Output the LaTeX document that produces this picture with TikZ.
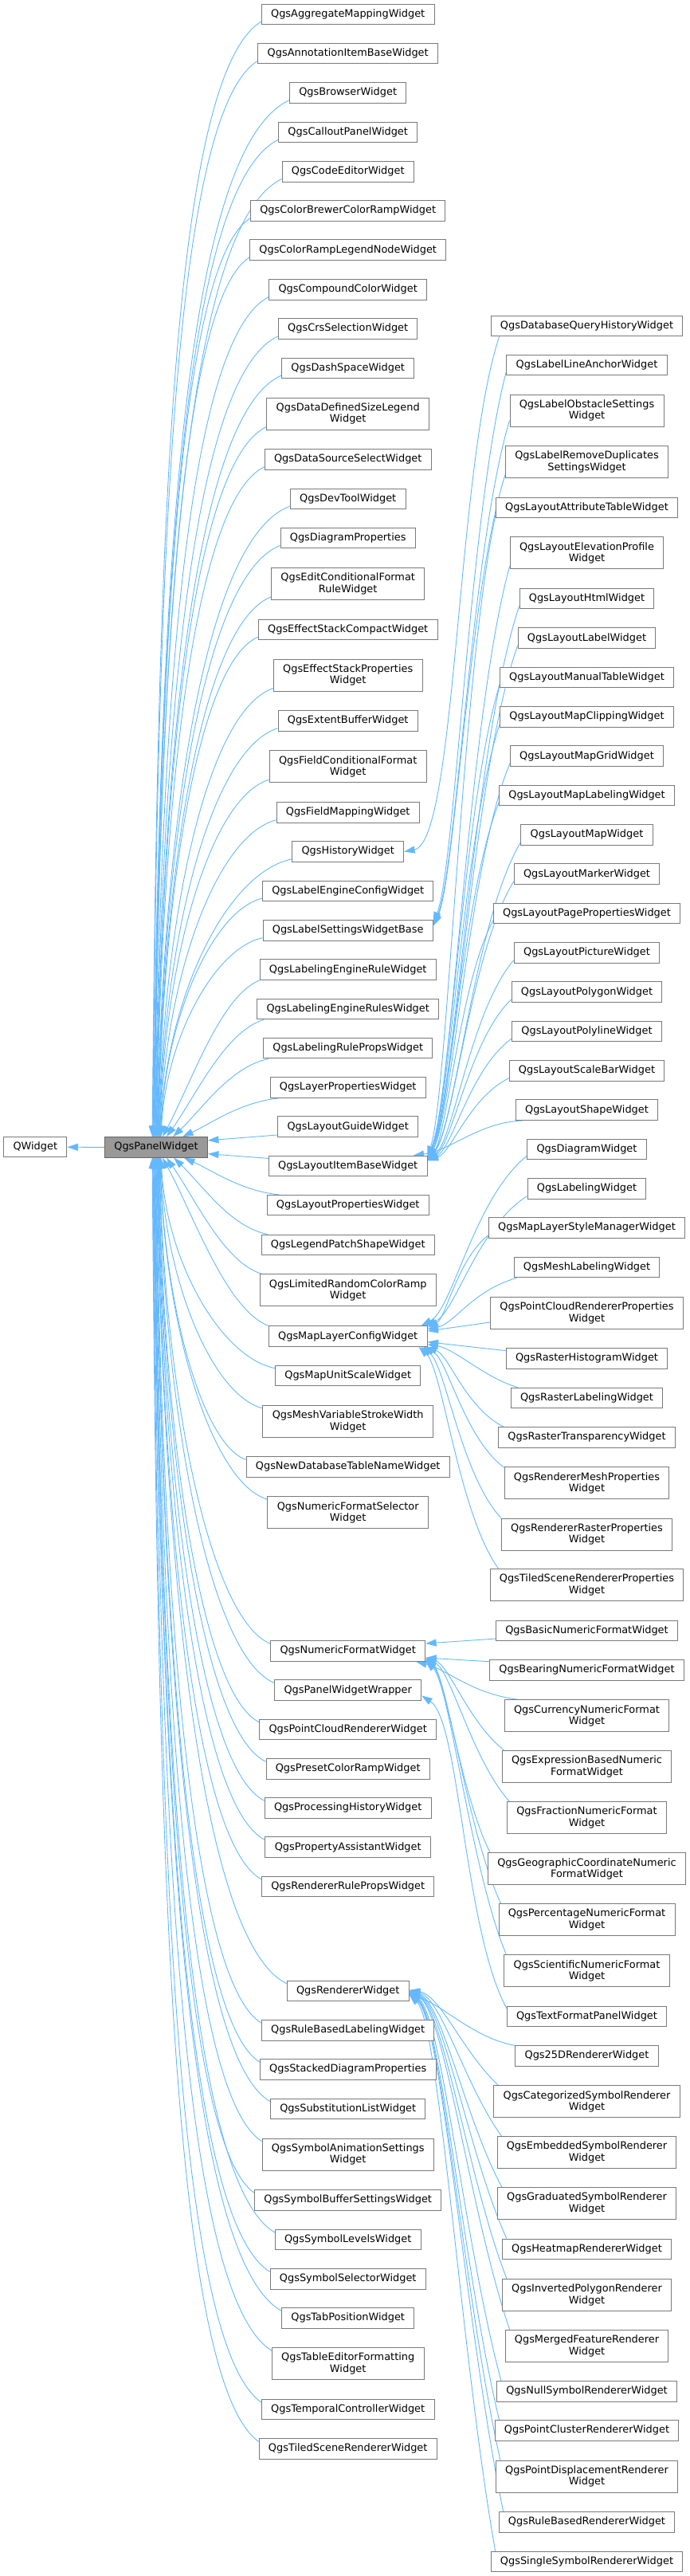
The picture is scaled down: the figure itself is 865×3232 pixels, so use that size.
\documentclass[tikz,border=0pt]{standalone}
\usepackage{fontspec}
\setmainfont{DejaVu Sans}
\usetikzlibrary{arrows.meta,calc}
\definecolor{edgec}{HTML}{63B8FF}
\definecolor{boxc}{HTML}{7A7A7A}
\definecolor{rootb}{HTML}{666666}
\definecolor{rootf}{HTML}{999999}
\pgfdeclarelayer{bg}
\pgfsetlayers{bg,main}
\newcommand\drawedge[6]{\draw[edge] let \p1=(#1), \p2=(#2) in (\p1) .. controls ({\x1+#3*(\x2-\x1)},{\y1+#4*(\y2-\y1)}) and ({\x2+#5*(\x1-\x2)},{\y2+#6*(\y1-\y2)}) .. (\p2);}
\newcommand\drawline[2]{\draw[edge] (#1) -- (#2);}
\begin{document}
\begin{tikzpicture}[x=1pt,y=-1pt,
  edge/.style={draw=edgec, line width=0.9pt, arrows={Triangle[length=13.5pt,width=9pt]-}},
  base/.style={draw=boxc, fill=white, line width=1pt, inner xsep=11.8pt, inner ysep=0pt, font=\fontsize{12.9}{14.5}\selectfont},
  box/.style={base, minimum height=25.5pt, text height=9.6pt, text depth=2.9pt},
  boxii/.style={base, align=center, minimum height=40pt},
  root/.style={box, draw=rootb, fill=rootf}]
\useasboundingbox (0,0) rectangle (865,3232);

\node[box] (qw) at (44.3,1439.2) {QWidget};
\node[root] (pw) at (196,1439.4) {QgsPanelWidget};

% column 2
\node[box] (a1) at (436.7,17.9) {QgsAggregateMappingWidget};
\node[box] (a2) at (436.7,67.2) {QgsAnnotationItemBaseWidget};
\node[box] (a3) at (436.7,116.4) {QgsBrowserWidget};
\node[box] (a4) at (436.7,166) {QgsCalloutPanelWidget};
\node[box] (a5) at (436.7,215.3) {QgsCodeEditorWidget};
\node[box] (a6) at (436.7,264.5) {QgsColorBrewerColorRampWidget};
\node[box] (a7) at (436.7,313.7) {QgsColorRampLegendNodeWidget};
\node[box] (a8) at (436.7,363.3) {QgsCompoundColorWidget};
\node[box] (a9) at (436.7,412.6) {QgsCrsSelectionWidget};
\node[box] (a10) at (436.7,461.8) {QgsDashSpaceWidget};
\node[boxii] (a11) at (436.7,519) {QgsDataDefinedSizeLegend\\Widget};
\node[box] (a12) at (436.7,576.6) {QgsDataSourceSelectWidget};
\node[box] (a13) at (436.7,625.8) {QgsDevToolWidget};
\node[box] (a14) at (436.7,675.2) {QgsDiagramProperties};
\node[boxii] (a15) at (436.7,732.4) {QgsEditConditionalFormat\\RuleWidget};
\node[box] (a16) at (436.7,789.9) {QgsEffectStackCompactWidget};
\node[boxii] (a17) at (436.7,847) {QgsEffectStackProperties\\Widget};
\node[box] (a18) at (436.7,904.5) {QgsExtentBufferWidget};
\node[boxii] (a19) at (436.7,961.7) {QgsFieldConditionalFormat\\Widget};
\node[box] (a20) at (436.7,1019.5) {QgsFieldMappingWidget};
\node[box] (a21) at (436.7,1068.6) {QgsHistoryWidget};
\node[box] (a22) at (436.7,1117.9) {QgsLabelEngineConfigWidget};
\node[box] (a23) at (436.7,1167.4) {QgsLabelSettingsWidgetBase};
\node[box] (a24) at (436.7,1216.7) {QgsLabelingEngineRuleWidget};
\node[box] (a25) at (436.7,1266) {QgsLabelingEngineRulesWidget};
\node[box] (a26) at (436.7,1315.2) {QgsLabelingRulePropsWidget};
\node[box] (a27) at (436.7,1364.5) {QgsLayerPropertiesWidget};
\node[box] (a28) at (436.7,1413.7) {QgsLayoutGuideWidget};
\node[box] (a29) at (436.7,1463.1) {QgsLayoutItemBaseWidget};
\node[box] (a30) at (436.7,1512.2) {QgsLayoutPropertiesWidget};
\node[box] (a31) at (436.7,1561.8) {QgsLegendPatchShapeWidget};
\node[boxii] (a32) at (436.7,1618.8) {QgsLimitedRandomColorRamp\\Widget};
\node[box] (a33) at (436.7,1676.7) {QgsMapLayerConfigWidget};
\node[box] (a34) at (436.7,1725.9) {QgsMapUnitScaleWidget};
\node[boxii] (a35) at (436.7,1783.3) {QgsMeshVariableStrokeWidth\\Widget};
\node[box] (a36) at (436.7,1840.6) {QgsNewDatabaseTableNameWidget};
\node[boxii] (a37) at (436.7,1897.7) {QgsNumericFormatSelector\\Widget};
\node[box] (a38) at (436.7,2071.5) {QgsNumericFormatWidget};
\node[box] (a39) at (436.7,2120.7) {QgsPanelWidgetWrapper};
\node[box] (a40) at (436.7,2170) {QgsPointCloudRendererWidget};
\node[box] (a41) at (436.7,2219.4) {QgsPresetColorRampWidget};
\node[box] (a42) at (436.7,2268.5) {QgsProcessingHistoryWidget};
\node[box] (a43) at (436.7,2317.7) {QgsPropertyAssistantWidget};
\node[box] (a44) at (436.7,2367) {QgsRendererRulePropsWidget};
\node[box] (a45) at (436.7,2497.9) {QgsRendererWidget};
\node[box] (a46) at (436.7,2547.4) {QgsRuleBasedLabelingWidget};
\node[box] (a47) at (436.7,2596.5) {QgsStackedDiagramProperties};
\node[box] (a48) at (436.7,2645.8) {QgsSubstitutionListWidget};
\node[boxii] (a49) at (436.7,2703) {QgsSymbolAnimationSettings\\Widget};
\node[box] (a50) at (436.7,2760.5) {QgsSymbolBufferSettingsWidget};
\node[box] (a51) at (436.7,2810.1) {QgsSymbolLevelsWidget};
\node[box] (a52) at (436.7,2859.5) {QgsSymbolSelectorWidget};
\node[box] (a53) at (436.7,2908.5) {QgsTabPositionWidget};
\node[boxii] (a54) at (436.7,2965.6) {QgsTableEditorFormatting\\Widget};
\node[box] (a55) at (436.7,3023.2) {QgsTemporalControllerWidget};
\node[box] (a56) at (436.7,3072.6) {QgsTiledSceneRendererWidget};

% column 3
\node[box] (b1) at (736.5,409) {QgsDatabaseQueryHistoryWidget};
\node[box] (b2) at (736.5,458.1) {QgsLabelLineAnchorWidget};
\node[boxii] (b3) at (736.5,515.1) {QgsLabelObstacleSettings\\Widget};
\node[boxii] (b4) at (736.5,579.2) {QgsLabelRemoveDuplicates\\SettingsWidget};
\node[box] (b5) at (736.5,637.2) {QgsLayoutAttributeTableWidget};
\node[boxii] (b6) at (736.5,693.7) {QgsLayoutElevationProfile\\Widget};
\node[box] (b7) at (736.5,751.2) {QgsLayoutHtmlWidget};
\node[box] (b8) at (736.5,800.7) {QgsLayoutLabelWidget};
\node[box] (b9) at (736.5,850) {QgsLayoutManualTableWidget};
\node[box] (b10) at (736.5,899.4) {QgsLayoutMapClippingWidget};
\node[box] (b11) at (736.5,948.7) {QgsLayoutMapGridWidget};
\node[box] (b12) at (736.5,998) {QgsLayoutMapLabelingWidget};
\node[box] (b13) at (736.5,1047.4) {QgsLayoutMapWidget};
\node[box] (b14) at (736.5,1096.7) {QgsLayoutMarkerWidget};
\node[box] (b15) at (736.5,1146) {QgsLayoutPagePropertiesWidget};
\node[box] (b16) at (736.5,1195.4) {QgsLayoutPictureWidget};
\node[box] (b17) at (736.5,1244.7) {QgsLayoutPolygonWidget};
\node[box] (b18) at (736.5,1293.8) {QgsLayoutPolylineWidget};
\node[box] (b19) at (736.5,1343.4) {QgsLayoutScaleBarWidget};
\node[box] (b20) at (736.5,1392.7) {QgsLayoutShapeWidget};
\node[box] (b21) at (736.5,1442) {QgsDiagramWidget};
\node[box] (b22) at (736.5,1491.4) {QgsLabelingWidget};
\node[box] (b23) at (736.5,1540.6) {QgsMapLayerStyleManagerWidget};
\node[box] (b24) at (736.5,1590) {QgsMeshLabelingWidget};
\node[boxii] (b25) at (736.5,1647.4) {QgsPointCloudRendererProperties\\Widget};
\node[box] (b26) at (736.5,1704.6) {QgsRasterHistogramWidget};
\node[box] (b27) at (736.5,1753.8) {QgsRasterLabelingWidget};
\node[box] (b28) at (736.5,1803.5) {QgsRasterTransparencyWidget};
\node[boxii] (b29) at (736.5,1860.7) {QgsRendererMeshProperties\\Widget};
\node[boxii] (b30) at (736.5,1925) {QgsRendererRasterProperties\\Widget};
\node[boxii] (b31) at (736.5,1988.6) {QgsTiledSceneRendererProperties\\Widget};
\node[box] (b32) at (736.5,2046) {QgsBasicNumericFormatWidget};
\node[box] (b33) at (736.5,2095.3) {QgsBearingNumericFormatWidget};
\node[boxii] (b34) at (736.5,2152.7) {QgsCurrencyNumericFormat\\Widget};
\node[boxii] (b35) at (736.5,2216.6) {QgsExpressionBasedNumeric\\FormatWidget};
\node[boxii] (b36) at (736.5,2280.4) {QgsFractionNumericFormat\\Widget};
\node[boxii] (b37) at (736.5,2344.7) {QgsGeographicCoordinateNumeric\\FormatWidget};
\node[boxii] (b38) at (736.5,2408.5) {QgsPercentageNumericFormat\\Widget};
\node[boxii] (b39) at (736.5,2472.8) {QgsScientificNumericFormat\\Widget};
\node[box] (b40) at (736.5,2529.9) {QgsTextFormatPanelWidget};
\node[box] (b41) at (736.5,2579.6) {Qgs25DRendererWidget};
\node[boxii] (b42) at (736.5,2636.7) {QgsCategorizedSymbolRenderer\\Widget};
\node[boxii] (b43) at (736.5,2700.6) {QgsEmbeddedSymbolRenderer\\Widget};
\node[boxii] (b44) at (736.5,2764.6) {QgsGraduatedSymbolRenderer\\Widget};
\node[box] (b45) at (736.5,2821.9) {QgsHeatmapRendererWidget};
\node[boxii] (b46) at (736.5,2879.2) {QgsInvertedPolygonRenderer\\Widget};
\node[boxii] (b47) at (736.5,2943.3) {QgsMergedFeatureRenderer\\Widget};
\node[box] (b48) at (736.5,3000.4) {QgsNullSymbolRendererWidget};
\node[box] (b49) at (736.5,3049.6) {QgsPointClusterRendererWidget};
\node[boxii] (b50) at (736.5,3107) {QgsPointDisplacementRenderer\\Widget};
\node[box] (b51) at (736.5,3164.3) {QgsRuleBasedRendererWidget};
\node[box] (b52) at (736.5,3213.9) {QgsSingleSymbolRendererWidget};

\begin{pgfonlayer}{bg}
% QgsPanelWidget -> QWidget
\drawline{qw.east}{pw.west}
% column 2 -> QgsPanelWidget
\foreach \i in {1,...,23}{\pgfmathsetmacro\off{60+(\i-1)*0.5}\pgfmathsetmacro\bx{0.45+0.4*(24-\i)/23}\drawedge{[xshift=\off pt]pw.north west}{[yshift=4pt]a\i.south west}{0.05}{0.5}{\bx}{0.05}}
\drawedge{[xshift=73pt]pw.north west}{a24.south west}{0.3}{0.35}{0.4}{0.1}
\drawedge{[xshift=78pt]pw.north west}{[xshift=9pt]a25.south west}{0.3}{0.35}{0.4}{0.1}
\drawedge{[xshift=86pt]pw.north west}{[xshift=7pt]a26.south west}{0.3}{0.35}{0.4}{0.1}
\drawedge{[xshift=98pt]pw.north west}{[xshift=12pt]a27.south west}{0.3}{0.35}{0.4}{0.1}
\drawline{[yshift=-4.7pt]pw.north east}{[yshift=3pt]a28.south west}
\drawline{[yshift=5pt]pw.south east}{[yshift=-3.5pt]a29.north west}
\drawedge{[xshift=100pt]pw.south west}{[xshift=16pt]a30.north west}{0.3}{0.35}{0.4}{0.1}
\drawedge{[xshift=87pt]pw.south west}{[xshift=8pt]a31.north west}{0.3}{0.35}{0.4}{0.1}
\drawedge{[xshift=78pt]pw.south west}{[xshift=3pt]a32.north west}{0.3}{0.35}{0.4}{0.1}
\drawedge{[xshift=73pt]pw.south west}{a33.north west}{0.3}{0.35}{0.4}{0.1}
\foreach \i in {34,...,56}{\pgfmathsetmacro\off{71-(\i-34)*0.5}\pgfmathsetmacro\bx{0.45+0.4*(\i-33)/23}\drawedge{[xshift=\off pt]pw.south west}{[yshift=-4pt]a\i.north west}{0.05}{0.5}{\bx}{0.05}}
% history
\drawedge{a21.east}{[xshift=11pt]b1.south west}{0.55}{0.02}{0.45}{0.25}
% label settings
\drawedge{[yshift=-3.5pt]a23.north east}{[yshift=5pt]b2.south west}{0.3}{0.1}{0.5}{0.25}
\drawedge{[yshift=-5.5pt]a23.north east}{[yshift=8pt]b3.south west}{0.3}{0.1}{0.5}{0.25}
\drawedge{[yshift=-7.5pt]a23.north east}{[yshift=4pt]b4.south west}{0.3}{0.1}{0.5}{0.25}
% layout item base
\foreach \i in {5,...,19}{\pgfmathsetmacro\off{-1.5-(\i-5)*0.35}\drawedge{[yshift=\off pt]a29.north east}{[yshift=4pt]b\i.south west}{0.3}{0.1}{0.5}{0.25}}
\drawedge{[xshift=-18pt]a29.north east}{[xshift=9pt]b20.south west}{0.35}{0.15}{0.4}{0.05}
% map layer config
\drawedge{[xshift=-8pt]a33.north east}{[yshift=5pt]b21.south west}{0.3}{0.1}{0.5}{0.25}
\drawedge{[xshift=-3pt]a33.north east}{[yshift=4pt]b22.south west}{0.3}{0.1}{0.5}{0.25}
\drawedge{[yshift=-2pt]a33.north east}{[yshift=4pt]b23.south west}{0.3}{0.1}{0.5}{0.25}
\drawedge{[yshift=-4pt]a33.north east}{[xshift=4pt]b24.south west}{0.3}{0.1}{0.5}{0.25}
\drawline{[yshift=6.7pt]a33.east}{[yshift=-11.6pt]b25.west}
\drawline{[yshift=-7pt]a33.east}{[yshift=10pt]b26.west}
\drawedge{[yshift=-10pt]a33.east}{[xshift=9pt]b27.north west}{0.3}{0.1}{0.35}{0.2}
\drawedge{[xshift=-2pt]a33.south east}{[xshift=7pt]b28.north west}{0.3}{0.1}{0.5}{0.25}
\drawedge{[xshift=-5pt]a33.south east}{[yshift=-1pt]b29.north west}{0.3}{0.1}{0.5}{0.25}
\drawedge{[xshift=-8pt]a33.south east}{b30.north west}{0.3}{0.1}{0.5}{0.25}
\drawedge{[xshift=-11pt]a33.south east}{[xshift=11pt]b31.north west}{0.3}{0.1}{0.5}{0.25}
% numeric format
\drawline{[yshift=9.5pt]a38.east}{[yshift=-10pt]b32.west}
\drawline{[yshift=-8.5pt]a38.east}{[yshift=10.6pt]b33.west}
\drawedge{[xshift=-12pt]a38.south east}{[xshift=17pt]b34.north west}{0.3}{0.2}{0.45}{0.15}
\foreach \i/\s in {35/5,36/4,37/3,38/2,39/1}{\drawedge{[yshift=\s pt]a38.south east}{[xshift=3pt]b\i.north west}{0.3}{0.08}{0.45}{0.3}}
% panel widget wrapper
\drawedge{[yshift=-6.7pt]a39.east}{[yshift=-3pt]b40.north west}{0.45}{0.08}{0.5}{0.25}
% renderer widget
\drawedge{[yshift=-6pt]a45.east}{b41.north west}{0.3}{0.15}{0.4}{0.15}
\foreach \i in {42,...,52}{\pgfmathsetmacro\off{1-(\i-42)*0.6}\drawedge{[yshift=\off pt]a45.east}{[xshift=6pt]b\i.north west}{0.35}{0.05}{0.4}{0.35}}
\end{pgfonlayer}
\end{tikzpicture}
\end{document}
